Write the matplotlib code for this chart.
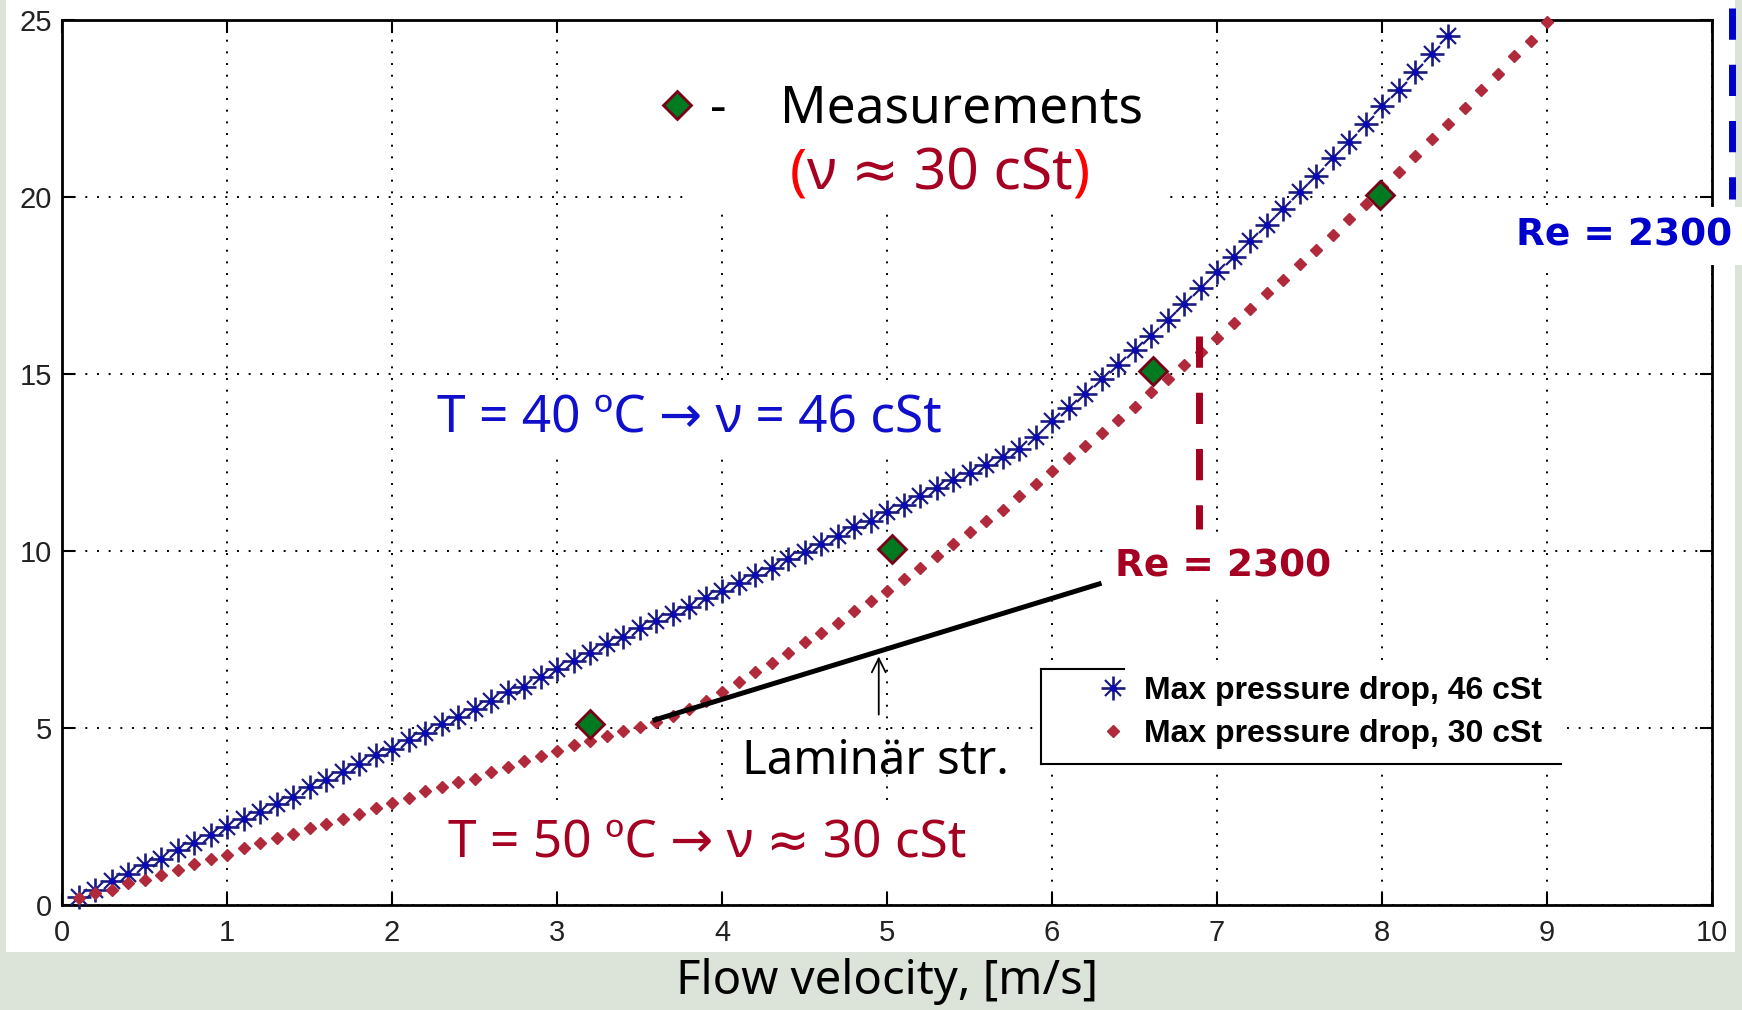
import matplotlib
matplotlib.use("Agg")
import matplotlib.pyplot as plt
from matplotlib.patches import Rectangle
from matplotlib.lines import Line2D
from matplotlib.legend_handler import HandlerTuple

# flow velocity [m/s], pressure drop
velocity = [0.1, 0.2, 0.3, 0.4, 0.5, 0.6, 0.7, 0.8, 0.9, 1.0,
            1.1, 1.2, 1.3, 1.4, 1.5, 1.6, 1.7, 1.8, 1.9, 2.0,
            2.1, 2.2, 2.3, 2.4, 2.5, 2.6, 2.7, 2.8, 2.9, 3.0,
            3.1, 3.2, 3.3, 3.4, 3.5, 3.6, 3.7, 3.8, 3.9, 4.0,
            4.1, 4.2, 4.3, 4.4, 4.5, 4.6, 4.7, 4.8, 4.9, 5.0,
            5.1, 5.2, 5.3, 5.4, 5.5, 5.6, 5.7, 5.8, 5.9, 6.0,
            6.1, 6.2, 6.3, 6.4, 6.5, 6.6, 6.7, 6.8, 6.9, 7.0,
            7.1, 7.2, 7.3, 7.4, 7.5, 7.6, 7.7, 7.8, 7.9, 8.0,
            8.1, 8.2, 8.3, 8.4, 8.5, 8.6, 8.7, 8.8, 8.9, 9.0]

dp_46 = [0.23, 0.42, 0.68, 0.87, 1.13, 1.31, 1.55, 1.74, 1.98, 2.21,
         2.44, 2.63, 2.86, 3.05, 3.33, 3.52, 3.75, 3.97, 4.23, 4.41,
         4.65, 4.85, 5.10, 5.30, 5.54, 5.75, 6.01, 6.17, 6.43, 6.66,
         6.90, 7.11, 7.37, 7.56, 7.82, 8.01, 8.23, 8.42, 8.68, 8.87,
         9.11, 9.32, 9.53, 9.77, 9.98, 10.21, 10.42, 10.68, 10.86, 11.11,
         11.30, 11.55, 11.77, 12.00, 12.21, 12.44, 12.65, 12.89, 13.21, 13.66,
         14.04, 14.43, 14.86, 15.26, 15.68, 16.08, 16.53, 16.97, 17.42, 17.87,
         18.31, 18.75, 19.20, 19.65, 20.14, 20.60, 21.10, 21.55, 22.06, 22.56,
         23.03, 23.52, 24.04, 24.55]

dp_30 = [0.19, 0.33, 0.42, 0.61, 0.72, 0.85, 0.99, 1.15, 1.29, 1.41,
         1.60, 1.74, 1.88, 2.00, 2.18, 2.30, 2.44, 2.58, 2.75, 2.88,
         3.03, 3.21, 3.33, 3.47, 3.57, 3.75, 3.90, 4.06, 4.20, 4.36,
         4.51, 4.63, 4.78, 4.91, 5.02, 5.16, 5.35, 5.54, 5.77, 6.01,
         6.29, 6.57, 6.85, 7.11, 7.42, 7.67, 7.98, 8.31, 8.59, 8.87,
         9.20, 9.53, 9.86, 10.19, 10.54, 10.86, 11.17, 11.55, 11.88, 12.25,
         12.63, 12.96, 13.33, 13.71, 14.08, 14.49, 14.86, 15.26, 15.63, 16.01,
         16.43, 16.85, 17.28, 17.66, 18.10, 18.50, 18.94, 19.37, 19.81, 20.28,
         20.72, 21.17, 21.63, 22.06, 22.51, 23.01, 23.47, 23.97, 24.41, 24.95]

meas_v = [3.20, 5.03, 6.61, 7.99]
meas_dp = [5.12, 10.05, 15.09, 20.07]

x_ticks = [0, 1, 2, 3, 4, 5, 6, 7, 8, 9, 10]
y_ticks = [0, 5, 10, 15, 20, 25]

# Re = 2300 markers and the laminar pointer
re_v_30 = 6.89
re_dp_30 = [16.06, 10.61]
re_v_46 = 10.12
re_dp_46 = [25.35, 19.94]
laminar_v = [3.58, 6.30]
laminar_dp = [5.21, 9.09]

BLUE = "#0f0fcc"
DARK_RED = "#a50021"
ann_font = ["Noto Sans", "DejaVu Sans"]

W, H = 1742, 1010


def fx(px):
    return px / W


def fy(py):
    return 1 - py / H


fig = plt.figure(figsize=(W / 100, H / 100), dpi=100, facecolor="#dce3d9")
fig.patches.append(Rectangle((fx(6), fy(952)), fx(1735) - fx(6), fy(0) - fy(952),
                             transform=fig.transFigure, facecolor="white",
                             edgecolor="none", zorder=-1))

ax = fig.add_axes([fx(62), fy(905), fx(1712) - fx(62), fy(20) - fy(905)])
ax.set_xlim(0, 10)
ax.set_ylim(0, 25)
ax.set_xticks(x_ticks)
ax.set_yticks(y_ticks)
ax.set_axisbelow(True)
ax.grid(True, color="black", linestyle=(0, (1, 5)), linewidth=1.4)
ax.tick_params(direction="in", length=9, width=1.5, top=True, right=True,
               labelsize=21, labelcolor="#222222")
ax.tick_params(axis="x", pad=10)
ax.tick_params(axis="y", pad=7)
for lab in ax.get_xticklabels() + ax.get_yticklabels():
    lab.set_fontfamily("Liberation Sans")
for s in ax.spines.values():
    s.set_linewidth(2)
    s.set_color("black")

# white text boxes of the slide hide the grid
ax.add_patch(Rectangle((3.82, 19.77), 2.89, 5.23, facecolor="white", edgecolor="none", zorder=1))
ax.add_patch(Rectangle((2.29, 0.56), 3.2, 2.41, facecolor="white", edgecolor="none", zorder=1))
ax.add_artist(Rectangle((fx(1041), fy(764)), fx(1561) - fx(1041), fy(669) - fy(764),
                        transform=fig.transFigure, facecolor="white", edgecolor="none",
                        zorder=1, clip_on=False))

v46 = velocity[:len(dp_46)]
star_plus, = ax.plot(v46, dp_46, ls="none", marker="+", ms=17, mew=1.9,
                     color="#1b1b80", clip_on=False, zorder=3)
star_x, = ax.plot(v46, dp_46, ls="none", marker="x", ms=11, mew=1.6,
                  color="#1b1b80", clip_on=False, zorder=3)
star_dot, = ax.plot(v46, dp_46, ls="none", marker="o", ms=5, color="#0a0ab4",
                    mec="none", clip_on=False, zorder=3)
red_pts, = ax.plot(velocity, dp_30, ls="none", marker="D", ms=6.5, color="#b02a3c",
                   clip_on=False, zorder=3)

meas, = ax.plot(meas_v, meas_dp, ls="none", marker="D", ms=14.5, mfc="#007a20",
                mec="#7a0018", mew=2, zorder=4)

ax.plot([re_v_30, re_v_30], re_dp_30, color=DARK_RED, lw=5, dashes=(4.5, 3.6), zorder=3)
ax.plot([re_v_46, re_v_46], re_dp_46, color="#0000cc", lw=5, dashes=(4.5, 3.6),
        clip_on=False, zorder=3)
ax.plot(laminar_v, laminar_dp, color="black", lw=3.6, solid_capstyle="butt", zorder=3)
ax.annotate("", xy=(4.95, 7.1), xytext=(4.95, 5.3),
            arrowprops=dict(arrowstyle="->", lw=1.3, color="black", mutation_scale=25))

leg = ax.legend([(star_plus, star_x, star_dot), red_pts],
                ["Max pressure drop, 46 cSt", "Max pressure drop, 30 cSt"],
                handler_map={tuple: HandlerTuple(ndivide=1)},
                loc="upper left", bbox_to_anchor=(fx(1094), fy(676)),
                bbox_transform=fig.transFigure, frameon=False, borderpad=0,
                handlelength=1.2, handletextpad=0.375, labelspacing=0.4,
                borderaxespad=0, numpoints=1,
                prop=dict(family="Liberation Sans", weight="bold", size=23))
ax.add_artist(leg)
for xs, ys in [([1041, 1041], [669, 764]), ([1041, 1561], [764, 764]), ([1041, 1124], [669, 669])]:
    fig.add_artist(Line2D([fx(x) for x in xs], [fy(y) for y in ys], color="black", lw=1.5))

ax.legend([meas], ["-    Measurements"], loc="center left",
          bbox_to_anchor=(fx(654), fy(109)), bbox_transform=fig.transFigure,
          frameon=False, borderpad=0, borderaxespad=0, handlelength=0.9,
          handletextpad=0.18, numpoints=1, prop=dict(family=ann_font, size=37))

t1 = ax.text(4.41, 20.2, "(", color="#ff0000", fontsize=41, family=ann_font, va="baseline")
t2 = ax.annotate("ν ≈ 30 cSt", xy=(1, 20.2), xycoords=(t1, "data"), va="baseline",
                 color=DARK_RED, fontsize=41, family=ann_font)
ax.annotate(")", xy=(1, 20.2), xycoords=(t2, "data"), va="baseline",
            color="#ff0000", fontsize=41, family=ann_font)

ax.text(2.275, 13.72, "T = 40 ºC → ν = 46 cSt", color=BLUE, fontsize=37,
        family=ann_font, va="center",
        bbox=dict(boxstyle="square,pad=0.1", fc="white", ec="none"))
ax.text(2.342, 1.72, "T = 50 ºC → ν ≈ 30 cSt", color=DARK_RED, fontsize=37,
        family=ann_font, va="center")
ax.text(4.12, 4.05, "Laminär str.", color="black", fontsize=34, family=ann_font, va="center")

ax.text(6.383, 9.56, "Re = 2300", color=DARK_RED, fontsize=27, weight="bold",
        family="DejaVu Sans", va="center",
        bbox=dict(boxstyle="square,pad=0.3", fc="white", ec="none"))
ax.text(8.81, 18.9, "Re = 2300", color="#0000cc", fontsize=27, weight="bold",
        family="DejaVu Sans", va="center", zorder=5,
        bbox=dict(boxstyle="square,pad=0.3", fc="white", ec="none"))

ax.set_xlabel("Flow velocity, [m/s]", fontsize=34, family=ann_font, labelpad=8)

fig.savefig("out.png", dpi=100, facecolor=fig.get_facecolor())
